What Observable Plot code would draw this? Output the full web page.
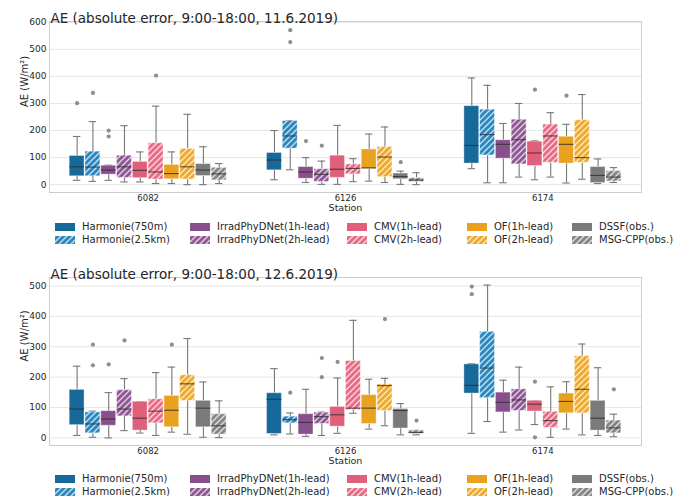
<!DOCTYPE html>
<html><head><meta charset="utf-8">
<script src="https://cdn.jsdelivr.net/npm/d3@7"></script>
<script src="https://cdn.jsdelivr.net/npm/@observablehq/plot@0.6"></script>
<style>
body{margin:0;background:#fff;font-family:"DejaVu Sans",sans-serif;color:#262626}
#root{position:relative;width:674px;height:496px;overflow:hidden;background:#fff}
.panel{position:absolute;left:0}
.item{position:absolute;display:flex;align-items:center;white-space:nowrap;font-size:10px;line-height:12px;height:12px}
.item svg{margin-right:7px}
</style></head><body><div id="root"></div>
<script>
// ---- data ----
const stations = ["6082", "6126", "6174"];
const methods = ["Harmonie(750m)", "Harmonie(2.5km)", "IrradPhyDNet(1h-lead)", "IrradPhyDNet(2h-lead)",
  "CMV(1h-lead)", "CMV(2h-lead)", "OF(1h-lead)", "OF(2h-lead)", "DSSF(obs.)", "MSG-CPP(obs.)"];
const titles = ["AE (absolute error, 9:00-18:00, 11.6.2019)", "AE (absolute error, 9:00-18:00, 12.6.2019)"];
const yTicks1 = [0, 100, 200, 300, 400, 500, 600];
const yTicks2 = [0, 100, 200, 300, 400, 500];

// Day 1 (11.6.2019): per station, per method
const d1Low  = [[16, 12, 16, 10, 10, 4, 4, 0, 0, 4], [18, 55, 8, 1, 1, 11, 13, 8, 1, 0], [59, 7, 7, 28, 18, 28, 6, 20, 4, 8]];
const d1Q1   = [[31, 31, 37, 25, 24, 19, 20, 19, 32, 16], [53, 133, 22, 10, 25, 38, 58, 28, 20, 10], [78, 108, 96, 75, 69, 81, 78, 81, 6, 12]];
const d1Med  = [[66, 65, 54, 66, 53, 47, 41, 66, 54, 40], [91, 180, 47, 38, 57, 60, 62, 102, 30, 17], [145, 185, 149, 166, 117, 180, 149, 100, 34, 28]];
const d1Q3   = [[106, 122, 70, 107, 84, 153, 73, 132, 76, 62], [117, 235, 65, 57, 107, 75, 130, 139, 41, 24], [290, 277, 164, 240, 159, 222, 177, 238, 65, 50]];
const d1High = [[178, 233, 72, 218, 121, 290, 121, 260, 140, 78], [200, 237, 100, 87, 219, 96, 187, 213, 50, 44], [394, 367, 226, 300, 162, 266, 223, 333, 95, 63]];
const d1Out  = [[0, 0, 301], [0, 1, 339], [0, 2, 200], [0, 2, 178], [0, 5, 403],
  [1, 1, 571], [1, 1, 527], [1, 2, 161], [1, 3, 144], [1, 8, 83], [2, 4, 351], [2, 6, 329]];

// Day 2 (12.6.2019)
const d2Low  = [[8, 2, 0, 24, 16, 8, 19, 12, 2, 1], [10, 13, 5, 8, 15, 81, 29, 40, 10, 10], [15, 54, 19, 26, 44, 2, 29, 10, 8, 4]];
const d2Q1   = [[42, 15, 40, 71, 24, 48, 35, 122, 35, 11], [13, 48, 11, 46, 37, 92, 46, 89, 31, 13], [146, 131, 84, 89, 87, 33, 81, 81, 24, 15]];
const d2Med  = [[95, 46, 62, 95, 65, 88, 91, 178, 98, 40], [127, 60, 51, 70, 76, 98, 98, 172, 90, 18], [173, 230, 117, 125, 111, 57, 120, 160, 65, 33]];
const d2Q3   = [[158, 84, 88, 157, 119, 127, 138, 206, 122, 78], [147, 70, 78, 83, 102, 253, 141, 176, 95, 24], [242, 349, 149, 160, 122, 86, 146, 269, 122, 57]];
const d2High = [[236, 88, 149, 195, 119, 215, 233, 327, 184, 122], [228, 82, 160, 85, 197, 387, 193, 196, 113, 25], [244, 503, 190, 233, 122, 168, 185, 309, 231, 78]];
const d2Out  = [[0, 1, 307], [0, 1, 239], [0, 2, 242], [0, 3, 321], [0, 6, 307],
  [1, 1, 149], [1, 3, 263], [1, 3, 200], [1, 4, 250], [1, 7, 391], [1, 9, 57],
  [2, 0, 498], [2, 0, 473], [2, 4, 185], [2, 4, 2], [2, 9, 160]];

// ---- styles ----
const colors = ["#17699a", "#2b87be", "#874f8c", "#8f5894", "#e0607b", "#e66b85", "#e9a120", "#edaa2e", "#7a7a7a", "#868686"];
const isHatched = [false, true, false, true, false, true, false, true, false, true];
const fills = methods.map((m, i) => isHatched[i] ? `url(#hatch${i})` : colors[i]);

// pattern defs
const NS = "http://www.w3.org/2000/svg";
const defsSvg = document.createElementNS(NS, "svg");
defsSvg.setAttribute("width", 0); defsSvg.setAttribute("height", 0);
defsSvg.style.position = "absolute";
let defsHtml = "<defs>";
methods.forEach((m, i) => {
  if (!isHatched[i]) return;
  defsHtml += `<pattern id="hatch${i}" patternUnits="userSpaceOnUse" width="6" height="6">
    <rect width="6" height="6" fill="${colors[i]}"/>
    <path d="M-1,1 l2,-2 M0,6 l6,-6 M5,7 l2,-2" stroke="#fff" stroke-opacity="0.75" stroke-width="1.3"/>
  </pattern>`;
});
defsHtml += "</defs>";
defsSvg.innerHTML = defsHtml;
const root = document.getElementById("root");
root.appendChild(defsSvg);

const slot = 0.08, boxW = slot * 0.94, capW = boxW / 2;
const xOf = (s, m) => s + (m - 4.5) * slot;

function rows(low, q1, med, q3, high) {
  const out = [];
  stations.forEach((st, s) => methods.forEach((name, m) => out.push({
    s, m, x: xOf(s, m), lo: low[s][m], q1: q1[s][m], med: med[s][m], q3: q3[s][m], hi: high[s][m], fill: fills[m]
  })));
  return out;
}

function panel({data, outliers, yDomain, yTicks, title, top, height}) {
  const chart = Plot.plot({
    width: 674, height,
    marginLeft: 49, marginRight: 33, marginTop: 21, marginBottom: 23,
    style: {fontFamily: "DejaVu Sans", fontSize: "9px", color: "#262626", background: "transparent"},
    x: {domain: [-0.5, 2.5], axis: null},
    y: {domain: yDomain, axis: null},
    color: {type: "identity"},
    marks: [
      Plot.ruleY(yTicks, {stroke: "#e6e6e6", strokeWidth: 1}),
      Plot.ruleX(data, {x: "x", y1: "lo", y2: "q1", stroke: "#787878", strokeWidth: 1.1}),
      Plot.ruleX(data, {x: "x", y1: "q3", y2: "hi", stroke: "#787878", strokeWidth: 1.1}),
      Plot.ruleY(data, {y: "lo", x1: d => d.x - capW / 2, x2: d => d.x + capW / 2, stroke: "#787878", strokeWidth: 1.1}),
      Plot.ruleY(data, {y: "hi", x1: d => d.x - capW / 2, x2: d => d.x + capW / 2, stroke: "#787878", strokeWidth: 1.1}),
      Plot.rect(data, {x1: d => d.x - boxW / 2, x2: d => d.x + boxW / 2, y1: "q1", y2: "q3", fill: "fill", stroke: "#ffffff", strokeOpacity: 0.35, strokeWidth: 1}),
      Plot.ruleY(data, {y: "med", x1: d => d.x - boxW / 2, x2: d => d.x + boxW / 2, stroke: "#2e2e2e", strokeOpacity: 0.8, strokeWidth: 1.1}),
      Plot.dot(outliers, {x: d => xOf(d[0], d[1]), y: d => d[2], r: 2.1, fill: "#8f8f8f", stroke: "none"}),
      Plot.frame({stroke: "#cccccc"}),
      Plot.axisY(yTicks, {tickSize: 0, tickPadding: 3, fontSize: 9, label: null}),
      Plot.axisX([0, 1, 2], {tickSize: 0, tickPadding: 2, fontSize: 8.5, tickFormat: i => stations[i], label: null}),
      Plot.text(["Station"], {frameAnchor: "bottom", dy: 18, fontSize: 9.5}),
      Plot.text(["AE (W/m²)"], {frameAnchor: "left", rotate: -90, dx: -25, fontSize: 10}),
      Plot.text([title], {frameAnchor: "top-left", textAnchor: "start", dx: 1, dy: -8, fontSize: 13.5})
    ]
  });
  chart.classList.add("panel");
  chart.style.top = top + "px";
  root.appendChild(chart);
}

function legend(top) {
  const colX = [55, 190, 347, 467, 572];
  methods.forEach((name, i) => {
    const col = Math.floor(i / 2), row = i % 2;
    const div = document.createElement("div");
    div.className = "item";
    div.style.left = colX[col] + "px";
    div.style.top = (top + row * 13 - 6) + "px";
    div.innerHTML = `<svg width="20" height="8"><rect width="20" height="8" fill="${fills[i]}"/></svg><span>${name}</span>`;
    root.appendChild(div);
  });
}

panel({data: rows(d1Low, d1Q1, d1Med, d1Q3, d1High), outliers: d1Out, yDomain: [-29, 603], yTicks: yTicks1, title: titles[0], top: 0, height: 215});
legend(227);
panel({data: rows(d2Low, d2Q1, d2Med, d2Q3, d2High), outliers: d2Out, yDomain: [-25, 528], yTicks: yTicks2, title: titles[1], top: 256, height: 212});
legend(479);
</script></body></html>
